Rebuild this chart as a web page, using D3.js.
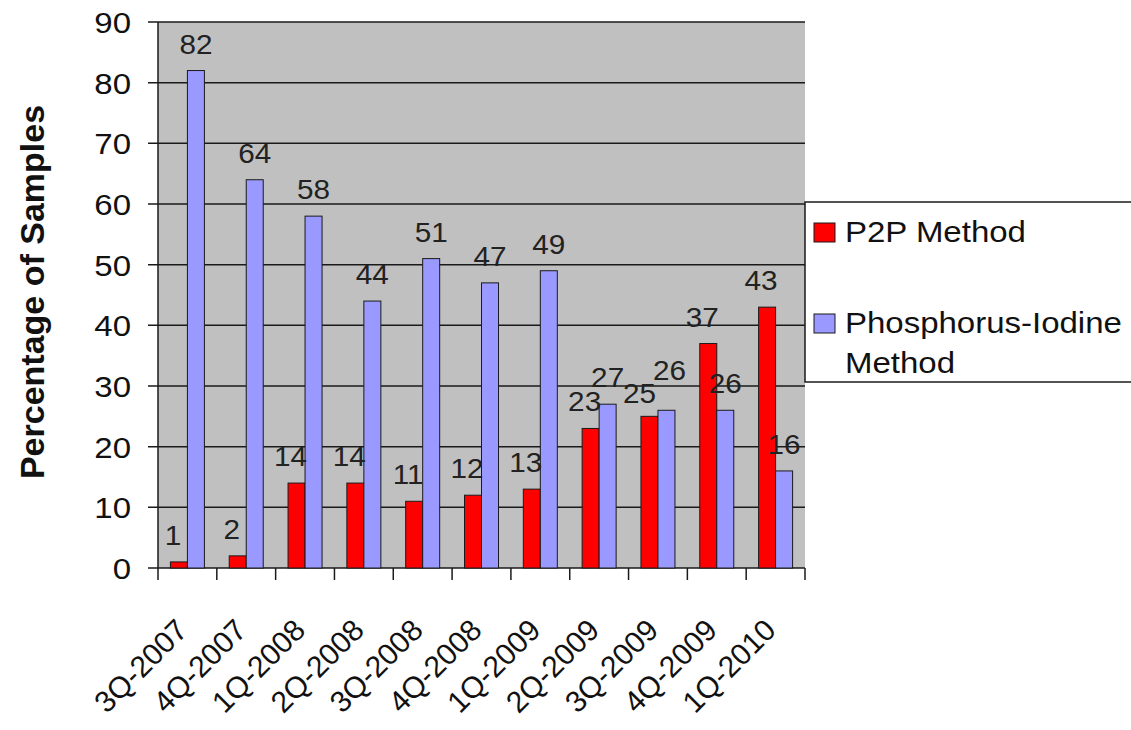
<!DOCTYPE html>
<html>
<head>
<meta charset="utf-8">
<script src="https://cdn.jsdelivr.net/npm/d3@7"></script>
<style>
body{margin:0;background:#fff;}
text{font-family:"Liberation Sans",Arial,sans-serif;}
</style>
</head>
<body>
<div id="chart"></div>
<script>
var quarters = ["3Q-2007","4Q-2007","1Q-2008","2Q-2008","3Q-2008","4Q-2008","1Q-2009","2Q-2009","3Q-2009","4Q-2009","1Q-2010"];
var p2p = [1,2,14,14,11,12,13,23,25,37,43];
var phosphorus = [82,64,58,44,51,47,49,27,26,26,16];
var yTicks = [0,10,20,30,40,50,60,70,80,90];
var seriesNames = ["P2P Method","Phosphorus-Iodine Method"];
var colors = ["#ff0000","#9999ff"];

var width = 1131, height = 730;
var sx = 1.1; // the picture is a bit wider than it is tall
var svg = d3.select("#chart").append("svg").attr("width", width).attr("height", height);

var x = d3.scaleBand().domain(quarters).range([158, 805]);
var y = d3.scaleLinear().domain([0, 90]).range([568, 22]);
var bw = 17;

function label(g, tx, ty, txt, size, anchor){
    return g.append("text")
        .attr("transform", "translate(" + tx + "," + ty + ") scale(" + sx + ",1)")
        .attr("text-anchor", anchor || "start").attr("font-size", size).attr("fill", "#111")
        .text(txt);
}

// plot background
svg.append("rect").attr("x", 158).attr("y", 22).attr("width", 647).attr("height", 546).attr("fill", "#c0c0c0");

// gridlines
svg.append("g").selectAll("line").data(yTicks).enter().append("line")
    .attr("x1", 148).attr("x2", 805)
    .attr("y1", function(d){ return y(d); }).attr("y2", function(d){ return y(d); })
    .attr("stroke", "#1a1a1a").attr("stroke-width", 1.5);

// y axis line
svg.append("line").attr("x1", 158).attr("x2", 158).attr("y1", 22).attr("y2", 568).attr("stroke", "#1a1a1a").attr("stroke-width", 1.5);

// y tick labels
var yl = svg.append("g");
yTicks.forEach(function(t){ label(yl, 131, y(t) + 11, t, 30, "end"); });

// x ticks at band boundaries
var bounds = quarters.map(function(q){ return x(q); }).concat([805]);
svg.append("g").selectAll("line").data(bounds).enter().append("line")
    .attr("x1", function(d){ return d; }).attr("x2", function(d){ return d; })
    .attr("y1", 568).attr("y2", 580)
    .attr("stroke", "#1a1a1a").attr("stroke-width", 1.5);

// bars
var bars = svg.append("g");
var vl = svg.append("g"); // value labels sit on top of the bars
quarters.forEach(function(q, i){
    var cx = x(q) + x.bandwidth() / 2;
    var vals = [p2p[i], phosphorus[i]];
    // nudge labels apart when the two bars are nearly the same height
    var close = Math.abs(y(vals[0]) - y(vals[1])) < 22;
    vals.forEach(function(v, k){
        var bx = cx - bw + k * bw;
        bars.append("rect").attr("x", bx).attr("y", y(v)).attr("width", bw).attr("height", 568 - y(v))
            .attr("fill", colors[k]).attr("stroke", "#1a1a1a").attr("stroke-width", 1);
        var dx = k == 0 ? -6 : 0, dy = 17;
        if (close) {
            if (vals[k] >= vals[1 - k]) { dy = 30; dx += 3; }
            else { dy = 13; dx -= 4; }
        }
        label(vl, bx + bw / 2 + dx, y(v) - dy, v, 27, "middle").attr("fill", "#222");
    });
});

// x labels
svg.append("g").selectAll("text").data(quarters).enter().append("text")
    .attr("transform", function(d){ return "translate(" + (x(d) + x.bandwidth() / 2 + 2) + ",632) rotate(-45)"; })
    .attr("text-anchor", "end").attr("font-size", 30).attr("fill", "#111")
    .text(function(d){ return d; });

// y axis title
svg.append("text").attr("transform", "translate(44,292) rotate(-90)")
    .attr("text-anchor", "middle").attr("font-size", 34).attr("font-weight", "bold").attr("fill", "#111")
    .text("Percentage of Samples");

// legend
var lg = svg.append("g");
lg.append("rect").attr("x", 805).attr("y", 202).attr("width", 340).attr("height", 180)
    .attr("fill", "#fff").attr("stroke", "#1a1a1a").attr("stroke-width", 1.5);
lg.append("rect").attr("x", 814).attr("y", 223).attr("width", 21).attr("height", 19).attr("fill", colors[0]).attr("stroke", "#1a1a1a");
label(lg, 845, 242, seriesNames[0], 30);
lg.append("rect").attr("x", 814).attr("y", 314).attr("width", 21).attr("height", 19).attr("fill", colors[1]).attr("stroke", "#1a1a1a");
label(lg, 845, 333, "Phosphorus-Iodine", 30);
label(lg, 845, 373, "Method", 30);
</script>
</body>
</html>
